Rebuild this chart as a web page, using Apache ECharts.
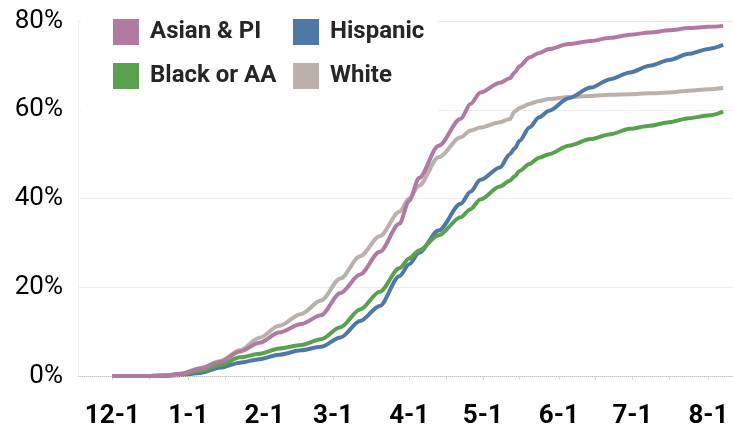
<!DOCTYPE html>
<html>
<head>
<meta charset="utf-8">
<script src="https://cdn.jsdelivr.net/npm/echarts@6/dist/echarts.min.js"></script>
<style>html,body{margin:0;padding:0;background:#fff}#c{width:733px;height:434px}</style>
</head>
<body>
<div id="c"></div>
<script>
const dates = ['2020-12-01','2020-12-15','2020-12-22','2020-12-29','2021-01-06','2021-01-14','2021-01-22','2021-01-30','2021-02-07','2021-02-16','2021-02-24','2021-03-04','2021-03-12','2021-03-20','2021-03-28','2021-04-01','2021-04-05','2021-04-13','2021-04-22','2021-04-26','2021-04-30','2021-05-08','2021-05-12','2021-05-14','2021-05-16','2021-05-20','2021-05-24','2021-05-28','2021-06-05','2021-06-14','2021-06-22','2021-06-30','2021-07-08','2021-07-16','2021-07-24','2021-08-01','2021-08-07'];
const asianPI = [0,0,0.1,0.5,1.7,3.2,5.5,7.5,9.8,11.7,13.7,18.7,22.9,28.0,34.3,39.5,44.6,51.9,58.0,61.3,63.9,66.1,67.1,68.4,69.8,71.8,72.8,73.7,74.8,75.5,76.2,76.9,77.4,77.9,78.4,78.7,78.9];
const white = [0,0,0.1,0.5,1.8,3.4,5.8,8.6,11.3,14.0,17.0,22.0,27.0,31.5,37.0,40.0,42.9,49.3,53.8,55.3,56.0,57.2,57.9,59.6,60.4,61.3,62.0,62.4,62.9,63.1,63.4,63.5,63.7,63.9,64.3,64.6,64.9];
const blackAA = [0,0,0.1,0.4,1.2,2.5,4.2,5.0,6.2,7.0,8.3,11.0,15.0,19.0,24.3,26.5,28.3,31.7,35.8,37.6,39.8,42.7,44.0,45.0,46.2,47.8,49.2,50.0,51.9,53.4,54.5,55.7,56.4,57.2,58.1,58.7,59.6];
const hispanic = [0,0,0,0.2,0.7,1.9,3.0,3.8,4.8,5.8,6.6,8.7,12.4,15.8,22.5,25.2,27.8,32.8,38.8,41.5,44.2,47.0,50.0,51.3,53.0,56.0,58.3,59.8,62.6,65.0,66.9,68.4,69.9,71.2,72.6,73.7,74.6];
const monthTicks = ['2020-12-01','2021-01-01','2021-02-01','2021-03-01','2021-04-01','2021-05-01','2021-06-01','2021-07-01','2021-08-01'];
const halfTicks = ['2020-12-16','2021-01-16','2021-02-15','2021-03-16','2021-04-16','2021-05-16','2021-06-16','2021-07-16'];
const yTicks = [0,20,40,60,80];

const ts = s => { const p = s.split('-').map(Number); return Date.UTC(p[0], p[1]-1, p[2]); };
const pair = arr => dates.map((d,i) => [ts(d), arr[i]]);
const FONT = "Roboto, 'Liberation Sans', Arial, sans-serif";

const chart = echarts.init(document.getElementById('c'), null, {renderer:'canvas'});
const mkLegend = (name, left, top) => ({
  data:[{name, icon:'rect'}], left, top, padding:0, itemWidth:26, itemHeight:26, z:10,
  selectedMode:false,
  textStyle:{fontFamily:FONT, fontSize:24, fontWeight:'bold', color:'#262626', padding:[0,0,0,6]}
});
const mkLine = (name, arr, color, z) => ({
  name, type:'line', data:pair(arr), showSymbol:false, symbol:'none', smooth:0.3, smoothMonotone:'x',
  lineStyle:{width:4, color}, itemStyle:{color}, z
});
const option = {
  animation:false,
  backgroundColor:'#fff',
  grid:{left:78, right:0, top:21, bottom:58, containLabel:false},
  legend:[mkLegend('Asian & PI',113,19), mkLegend('Hispanic',293,19), mkLegend('Black or AA',113,63), mkLegend('White',293,63)],
  graphic:[{type:'rect', shape:{x:81, y:4, width:357, height:112}, style:{fill:'#fff'}, z:3, silent:true}],
  xAxis:{
    type:'value', min:ts('2020-11-17'), max:ts('2021-08-11'), offset:20, scale:true,
    axisLine:{show:true, lineStyle:{color:'#e4e4e4', width:1}},
    axisTick:{show:true, customValues:monthTicks.concat(halfTicks).map(ts), length:4, lineStyle:{color:'#dcdcdc'}},
    axisLabel:{customValues:monthTicks.map(ts), margin:7, fontFamily:FONT, fontSize:26, fontWeight:'bold', color:'#000',
      formatter:v => { const d = new Date(v); return (d.getUTCMonth()+1) + '-' + d.getUTCDate(); }},
    splitLine:{show:false}
  },
  yAxis:{
    type:'value', min:0, max:80, interval:20,
    axisLine:{show:true, lineStyle:{color:'#f0f0f0', width:1}}, axisTick:{show:false},
    axisLabel:{formatter:'{value}%', margin:15, fontFamily:FONT, fontSize:26, color:'#000'},
    splitLine:{show:true, showMinLine:false, lineStyle:{color:'#ececec', width:1}}
  },
  series:[
    Object.assign(mkLine('White', white, '#bab0ac', 2), {markLine:{silent:true, symbol:'none', label:{show:false}, lineStyle:{type:'dotted', color:'#c4c4c4', width:1}, data:[{yAxis:0}]}}),
    mkLine('Hispanic', hispanic, '#4e79a7', 3),
    mkLine('Black or AA', blackAA, '#59a14f', 4),
    mkLine('Asian & PI', asianPI, '#b07aa1', 5)
  ]
};
chart.setOption(option);
</script>
</body>
</html>
